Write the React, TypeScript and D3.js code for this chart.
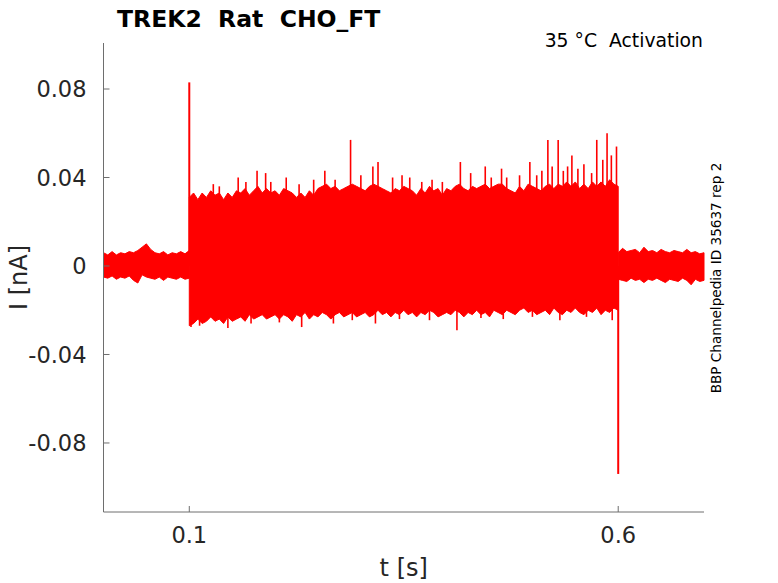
import { useEffect } from "react";
import * as d3 from "d3";

// time axis ticks and current axis ticks
const xTicks = [0.1, 0.6];
const yTicks = [0.08, 0.04, 0, -0.04, -0.08];
const yTickLabels = ["0.08", "0.04", "0", "-0.04", "-0.08"];

// envelope sampling (s)
const envStep = 0.005;
const preStart = 0;
const pulseStart = 0.1;
const postStart = 0.6;

// holding period before the pulse (nA)
const preUpper = [0.006, 0.005, 0.0065, 0.005, 0.006, 0.0055, 0.0065, 0.006, 0.007, 0.0085, 0.01, 0.0075, 0.006, 0.0055, 0.0065, 0.005, 0.006, 0.0055, 0.0065, 0.0055, 0.007];
const preLower = [-0.005, -0.0055, -0.0045, -0.006, -0.005, -0.0055, -0.0045, -0.0065, -0.0077, -0.004, -0.005, -0.0055, -0.006, -0.005, -0.0065, -0.005, -0.0055, -0.006, -0.005, -0.006, -0.0055];

// activation pulse, 0.1 .. 0.6 s (nA)
const pulseUpper = [
  0.031, 0.033, 0.03, 0.033, 0.031, 0.034, 0.032, 0.033, 0.03, 0.033, 0.031, 0.034, 0.033, 0.035, 0.032, 0.034, 0.036, 0.033, 0.035, 0.033, 0.034,
  0.032, 0.035, 0.034, 0.033, 0.031, 0.033, 0.031, 0.034, 0.032, 0.035, 0.036, 0.037, 0.035, 0.036, 0.034, 0.035, 0.036, 0.037, 0.036, 0.035,
  0.034, 0.036, 0.037, 0.036, 0.035, 0.034, 0.033, 0.035, 0.034, 0.036, 0.035, 0.034, 0.032, 0.035, 0.033, 0.036, 0.034, 0.035, 0.032, 0.035,
  0.034, 0.036, 0.037, 0.035, 0.034, 0.036, 0.035, 0.036, 0.037, 0.035, 0.036, 0.037, 0.037, 0.035, 0.034, 0.033, 0.036, 0.034, 0.037, 0.036,
  0.035, 0.034, 0.036, 0.037, 0.035, 0.037, 0.036, 0.038, 0.036, 0.038, 0.035, 0.037, 0.035, 0.038, 0.036, 0.038, 0.036, 0.039, 0.037, 0.036,
];
const pulseLower = [
  -0.027, -0.026, -0.024, -0.026, -0.025, -0.023, -0.025, -0.024, -0.026, -0.023, -0.025, -0.024, -0.023, -0.025, -0.022, -0.024, -0.023, -0.022, -0.024, -0.023, -0.022,
  -0.024, -0.022, -0.023, -0.025, -0.022, -0.023, -0.021, -0.024, -0.022, -0.023, -0.021, -0.022, -0.024, -0.022, -0.021, -0.023, -0.022, -0.021, -0.023, -0.022,
  -0.021, -0.023, -0.022, -0.02, -0.022, -0.021, -0.023, -0.021, -0.022, -0.02, -0.022, -0.021, -0.023, -0.021, -0.022, -0.02, -0.021, -0.023, -0.022, -0.021,
  -0.022, -0.02, -0.021, -0.023, -0.021, -0.022, -0.02, -0.022, -0.021, -0.023, -0.02, -0.021, -0.022, -0.02, -0.021, -0.022, -0.02, -0.019, -0.021, -0.02,
  -0.022, -0.021, -0.02, -0.022, -0.019, -0.021, -0.022, -0.02, -0.021, -0.019, -0.021, -0.022, -0.02, -0.021, -0.019, -0.022, -0.02, -0.021, -0.019, -0.02,
];

// after the pulse, 0.6 .. 0.7 s (nA)
const postUpper = [0.006, 0.008, 0.0065, 0.007, 0.0075, 0.006, 0.0085, 0.0065, 0.007, 0.006, 0.0075, 0.0065, 0.006, 0.007, 0.0065, 0.006, 0.0075, 0.006, 0.0065, 0.0055, 0.006];
const postLower = [-0.006, -0.0065, -0.007, -0.0055, -0.0065, -0.006, -0.0075, -0.006, -0.0065, -0.0055, -0.0065, -0.0075, -0.006, -0.0065, -0.007, -0.0055, -0.0065, -0.0085, -0.006, -0.007, -0.0065];

// single-sample excursions above / below the dense band
const upSpikeT = [0.128, 0.135, 0.157, 0.166, 0.179, 0.189, 0.195, 0.213, 0.228, 0.245, 0.258, 0.27, 0.288, 0.3, 0.314, 0.32, 0.337, 0.348, 0.357, 0.371, 0.383, 0.395, 0.416, 0.428, 0.445, 0.452, 0.464, 0.47, 0.485, 0.497, 0.505, 0.511, 0.518, 0.523, 0.53, 0.536, 0.541, 0.546, 0.553, 0.56, 0.569, 0.575, 0.582, 0.587, 0.592, 0.598];
const upSpikeV = [0.037, 0.036, 0.04, 0.038, 0.043, 0.042, 0.038, 0.04, 0.037, 0.039, 0.043, 0.039, 0.057, 0.041, 0.045, 0.047, 0.04, 0.041, 0.04, 0.038, 0.039, 0.038, 0.047, 0.042, 0.045, 0.04, 0.044, 0.04, 0.041, 0.047, 0.041, 0.043, 0.057, 0.045, 0.057, 0.043, 0.045, 0.05, 0.044, 0.046, 0.042, 0.057, 0.048, 0.06, 0.05, 0.054];
const downSpikeT = [0.102, 0.112, 0.145, 0.172, 0.205, 0.231, 0.268, 0.29, 0.317, 0.345, 0.38, 0.412, 0.44, 0.466, 0.5, 0.532, 0.563, 0.593];
const downSpikeV = [-0.0276, -0.027, -0.028, -0.026, -0.0255, -0.0276, -0.026, -0.0245, -0.026, -0.024, -0.0245, -0.029, -0.0235, -0.024, -0.023, -0.0245, -0.023, -0.0245];

// capacitive transients at pulse on / off
const onsetSpike = { t: 0.1, v: 0.083 };
const offsetSpike = { t: 0.6, v: -0.094 };

const W = 778;
const H = 583;
const RED = "#ff0000";
const AXIS = "#6e6e6e";
const TXT = "#262626";
const FONT = "'DejaVu Sans', sans-serif";

const x = d3.scaleLinear().domain([0, 0.7]).range([103.5, 704]);
const y = d3.scaleLinear().domain([-0.1112, 0.1008]).range([512, 43]);

function bandPath(start: number, upper: number[], lower: number[]) {
  const area = d3
    .area<number>()
    .x((_, i) => x(start + i * envStep))
    .y0((_, i) => y(lower[i]))
    .y1((d) => y(d));
  return area(upper) ?? "";
}

export default function App() {
  useEffect(() => {
    document.body.style.margin = "0";
  }, []);

  const [y0, y1] = y.range();
  const [x0, x1] = x.range();

  return (
    <svg width={W} height={H} style={{ display: "block", background: "#fff" }}>
      {/* traces */}
      <g>
        <path d={bandPath(preStart, preUpper, preLower)} fill={RED} stroke={RED} strokeWidth={1} />
        <path d={bandPath(pulseStart, pulseUpper, pulseLower)} fill={RED} stroke={RED} strokeWidth={1} />
        <path d={bandPath(postStart, postUpper, postLower)} fill={RED} stroke={RED} strokeWidth={1} />
        {upSpikeT.map((t, i) => (
          <line key={"u" + i} x1={x(t)} x2={x(t)} y1={y(0.03)} y2={y(upSpikeV[i])} stroke={RED} strokeWidth={1.6} />
        ))}
        {downSpikeT.map((t, i) => (
          <line key={"d" + i} x1={x(t)} x2={x(t)} y1={y(-0.018)} y2={y(downSpikeV[i])} stroke={RED} strokeWidth={1.6} />
        ))}
        <line x1={x(onsetSpike.t)} x2={x(onsetSpike.t)} y1={y(0)} y2={y(onsetSpike.v)} stroke={RED} strokeWidth={2} />
        <line x1={x(offsetSpike.t)} x2={x(offsetSpike.t)} y1={y(0)} y2={y(offsetSpike.v)} stroke={RED} strokeWidth={2} />
      </g>

      {/* axes */}
      <line x1={x0} x2={x0} y1={y1} y2={y0} stroke={AXIS} strokeWidth={1} />
      <line x1={x0} x2={x1} y1={y0} y2={y0} stroke={AXIS} strokeWidth={1} />
      {yTicks.map((v, i) => (
        <g key={"yt" + i}>
          <line x1={x0} x2={x0 + 6} y1={y(v)} y2={y(v)} stroke={AXIS} />
          <text x={x0 - 17} y={y(v)} dy="0.36em" textAnchor="end" fontFamily={FONT} fontSize={22.5} fill={TXT}>
            {yTickLabels[i]}
          </text>
        </g>
      ))}
      {xTicks.map((v, i) => (
        <g key={"xt" + i}>
          <line x1={x(v)} x2={x(v)} y1={y0} y2={y0 - 6} stroke={AXIS} />
          <text x={x(v)} y={y0 + 31} textAnchor="middle" fontFamily={FONT} fontSize={22.5} fill={TXT}>
            {d3.format(".1f")(v)}
          </text>
        </g>
      ))}

      {/* labels */}
      <text x={(x0 + x1) / 2} y={576} textAnchor="middle" fontFamily={FONT} fontSize={24} fill={TXT}>
        t [s]
      </text>
      <text transform={`translate(27,${(y0 + y1) / 2}) rotate(-90)`} textAnchor="middle" fontFamily={FONT} fontSize={24} fill={TXT}>
        I [nA]
      </text>
      <text x={117} y={27} fontFamily={FONT} fontSize={23.5} fontWeight="bold" fill="#000" style={{ whiteSpace: "pre" }}>
        {"TREK2  Rat  CHO_FT"}
      </text>
      <text x={703} y={47} textAnchor="end" fontFamily={FONT} fontSize={18.8} fill="#000" style={{ whiteSpace: "pre" }}>
        {"35 °C  Activation"}
      </text>
      <text transform="translate(721,278) rotate(-90)" textAnchor="middle" fontFamily={FONT} fontSize={13.6} fill="#000">
        BBP Channelpedia ID 35637 rep 2
      </text>
    </svg>
  );
}
